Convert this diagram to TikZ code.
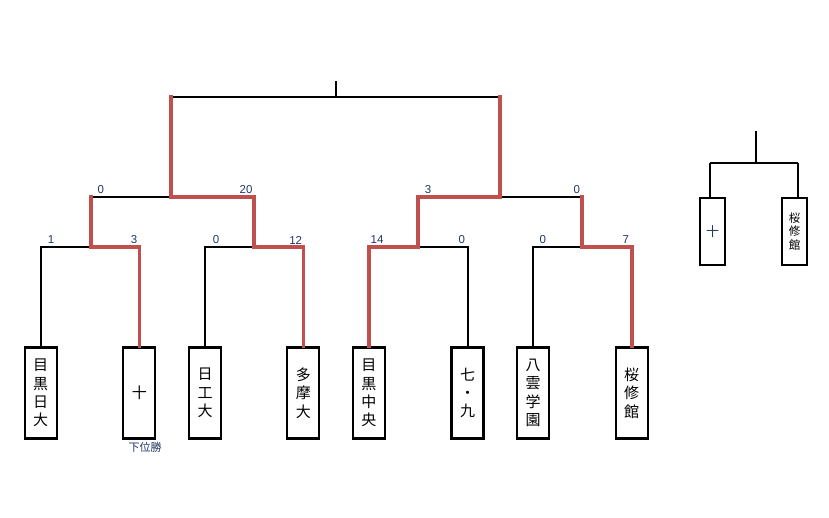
\documentclass[tikz,border=0pt]{standalone}
\usepackage{fontspec}
\setmainfont{Liberation Sans}
\newfontfamily\jp{Noto Sans CJK JP}
\definecolor{winred}{HTML}{C0504D}
\definecolor{navy}{HTML}{1F3864}
\begin{document}
\begin{tikzpicture}[x=1pt,y=-1pt,
  team/.style={draw=black,line width=2.3pt,minimum width=32pt,minimum height=91pt,inner sep=0pt,align=center,
    font={\jp\fontsize{15}{18.3}\selectfont}},
  sidebox/.style={draw=black,line width=2.3pt,minimum width=25pt,minimum height=67pt,inner sep=0pt,align=center,
    font={\jp\fontsize{11.5}{13.5}\selectfont}},
  blk/.style={draw=black,line width=2pt},
  win/.style={draw=winred,line width=3.6pt,line cap=rect},
  score/.style={font={\fontsize{11.5}{12}\selectfont},text=navy,inner sep=0pt}]
\useasboundingbox (0,0) rectangle (829,517);
% teams
\node[team] (b1) at (40.7,393) {目\\黒\\日\\大};
\node[team] (b2) at (139.3,393) {\fontsize{15}{18}\selectfont 十};
\node[team] (b3) at (205,393) {日\\工\\大};
\node[team] (b4) at (303.3,393) {多\\摩\\大};
\node[team] (b5) at (368.8,393) {目\\黒\\中\\央};
\node[team] (b6) at (467.5,393) {七\\・\\九};
\node[team] (b7) at (533,393) {八\\雲\\学\\園};
\node[team] (b8) at (631.7,393) {桜\\修\\館};
\node[font={\jp\fontsize{11}{12}\selectfont},text=navy,inner sep=0pt] (note) at (145,447) {下位勝};
% junctions
\coordinate (m1) at (91,247);  \coordinate (m1t) at (91,197);
\coordinate (m2) at (254,247); \coordinate (m2t) at (254,197);
\coordinate (m3) at (418,247); \coordinate (m3t) at (418,197);
\coordinate (m4) at (582,247); \coordinate (m4t) at (582,197);
\coordinate (s1) at (171,197); \coordinate (s1t) at (171,97);
\coordinate (s2) at (500,197); \coordinate (s2t) at (500,97);
\coordinate (f) at (336,97);   \coordinate (ftop) at (336,81);
% losing (black) lines
\draw[blk] (b1.north) |- (m1);
\draw[blk] (b3.north) |- (m2);
\draw[blk] (b6.north) |- (m3);
\draw[blk] (b7.north) |- (m4);
\draw[blk] (m1t) -- (s1);
\draw[blk] (m4t) -- (s2);
\draw[blk] (s1t) -- (s2t);
\draw[blk] (f) -- (ftop);
% winning (red) paths
\draw[win] (b2.north) |- (m1) -- (m1t);
\draw[win] (b4.north) |- (m2) -- (m2t) -- (s1) -- (s1t);
\draw[win] (b5.north) |- (m3) -- (m3t) -- (s2) -- (s2t);
\draw[win] (b8.north) |- (m4) -- (m4t);
% scores
\node[score] (c1) at (51,240) {1};
\node[score] (c2) at (134,240) {3};
\node[score] (c3) at (216,240) {0};
\node[score] (c4) at (295.7,240) {12};
\node[score] (c5) at (377,240) {14};
\node[score] (c6) at (461.7,240) {0};
\node[score] (c7) at (542.7,240) {0};
\node[score] (c8) at (625.7,240) {7};
\node[score] (d1) at (100.7,190) {0};
\node[score] (d2) at (246,190) {20};
\node[score] (d3) at (428,190) {3};
\node[score] (d4) at (576.7,190) {0};
% side bracket
\node[sidebox] (bA) at (712.5,231.5) {\textcolor{navy}{\fontsize{13}{14}\selectfont 十}};
\node[sidebox] (bB) at (794.7,231.5) {桜\\修\\館};
\coordinate (sl) at (710,163);
\coordinate (sr) at (797.7,163);
\coordinate (sm) at (756,163);
\coordinate (smt) at (756,131);
\draw[blk] (sm) -- (smt);
\draw[blk] (sl) -- (sr);
\draw[blk] (sl) -- (sl |- bA.north);
\draw[blk] (sr) -- (sr |- bB.north);
\end{tikzpicture}
\end{document}
